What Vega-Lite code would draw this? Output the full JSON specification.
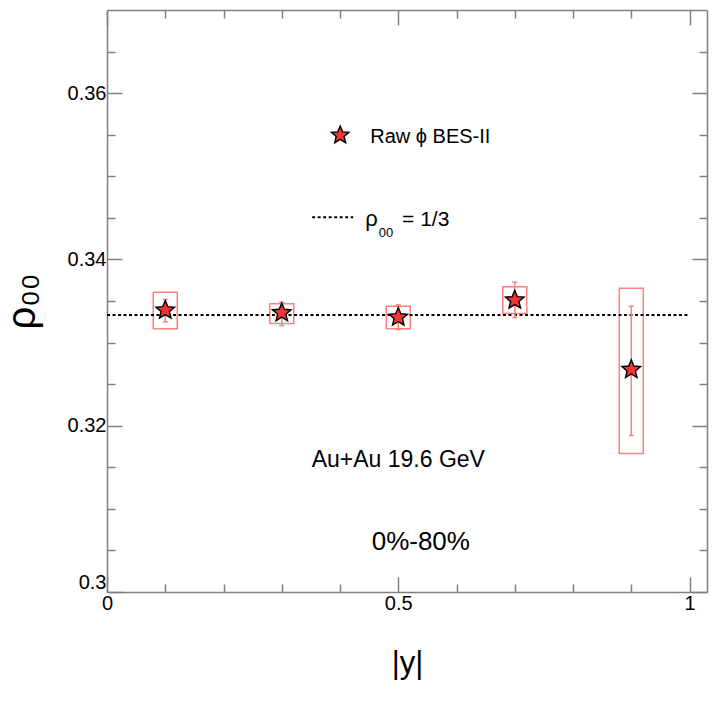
{
  "$schema": "https://vega.github.io/schema/vega-lite/v6.json",
  "width": 600,
  "height": 582,
  "autosize": "none",
  "padding": {"left": 107, "top": 10, "right": 10, "bottom": 112},
  "background": "white",
  "config": {
    "view": {"stroke": null},
    "font": "Liberation Sans",
    "axis": {
      "grid": false,
      "domainColor": "#808080",
      "domainWidth": 1.5,
      "tickColor": "#808080",
      "tickWidth": 1.5,
      "labelFont": "Liberation Sans",
      "labelColor": "black",
      "titleFont": "Liberation Sans",
      "titleFontWeight": "normal",
      "titleColor": "black"
    }
  },
  "data": {
    "values": [
      {"absy": 0.1, "rho": 0.33389, "stat_lo": 0.33249, "stat_hi": 0.33518, "sys_lo": 0.33165, "sys_hi": 0.33606},
      {"absy": 0.3, "rho": 0.33358, "stat_lo": 0.33205, "stat_hi": 0.33486, "sys_lo": 0.33229, "sys_hi": 0.33466},
      {"absy": 0.5, "rho": 0.33305, "stat_lo": 0.33157, "stat_hi": 0.33454, "sys_lo": 0.33165, "sys_hi": 0.33437},
      {"absy": 0.7, "rho": 0.33510, "stat_lo": 0.33301, "stat_hi": 0.33727, "sys_lo": 0.33349, "sys_hi": 0.33671},
      {"absy": 0.9, "rho": 0.32675, "stat_lo": 0.31883, "stat_hi": 0.33437, "sys_lo": 0.31666, "sys_hi": 0.33654}
    ]
  },
  "resolve": {"axis": {"x": "independent", "y": "independent"}, "scale": {"x": "shared", "y": "shared"}},
  "layer": [
    {
      "mark": {"type": "rect", "width": 24, "fillOpacity": 0, "stroke": "#ff8080", "strokeWidth": 1.5},
      "encoding": {
        "x": {"field": "absy", "type": "quantitative", "scale": {"domain": [0, 1.03], "nice": false, "zero": false},
          "axis": {"orient": "bottom", "values": [0, 0.1, 0.2, 0.3, 0.4, 0.5, 0.6, 0.7, 0.8, 0.9, 1],
            "labelExpr": "datum.value === 0 ? '0' : datum.value === 0.5 ? '0.5' : datum.value === 1 ? '1' : ''",
            "tickSize": {"condition": {"test": "datum.value === 0 || datum.value === 0.5 || datum.value === 1", "value": -15}, "value": -8},
            "labelPadding": 16, "labelFlush": false, "labelFontSize": 20, "labelOverlap": false,
            "title": "|y|", "titleFontSize": 31, "titlePadding": 28}},
        "y": {"field": "sys_lo", "type": "quantitative", "scale": {"domain": [0.3, 0.37], "nice": false, "zero": false},
          "axis": {"orient": "left", "values": [0.3, 0.305, 0.31, 0.315, 0.32, 0.325, 0.33, 0.335, 0.34, 0.345, 0.35, 0.355, 0.36, 0.365],
            "labelExpr": "abs(datum.value*100 - round(datum.value*50)*2) < 0.001 ? format(datum.value, '.2~f') : ''",
            "tickSize": {"condition": {"test": "abs(datum.value*100 - round(datum.value*50)*2) < 0.001", "value": -15}, "value": -8},
            "labelPadding": 16, "labelFlush": true, "labelFontSize": 20, "labelOverlap": false,
            "title": "ρ₀₀", "titleFontSize": 40, "titlePadding": 25}},
        "y2": {"field": "sys_hi"}
      }
    },
    {
      "data": {"values": [{}]},
      "mark": {"type": "rule", "color": "black", "strokeWidth": 2, "strokeDash": [3, 2.5]},
      "encoding": {
        "x": {"datum": 0, "type": "quantitative", "scale": {"domain": [0, 1.03], "nice": false, "zero": false},
          "axis": {"orient": "top", "values": [0, 0.1, 0.2, 0.3, 0.4, 0.5, 0.6, 0.7, 0.8, 0.9, 1], "labels": false, "title": null,
            "tickSize": {"condition": {"test": "datum.value === 0 || datum.value === 0.5 || datum.value === 1", "value": -15}, "value": -8}}},
        "x2": {"datum": 1},
        "y": {"datum": 0.33333, "type": "quantitative", "scale": {"domain": [0.3, 0.37], "nice": false, "zero": false},
          "axis": {"orient": "right", "values": [0.3, 0.305, 0.31, 0.315, 0.32, 0.325, 0.33, 0.335, 0.34, 0.345, 0.35, 0.355, 0.36, 0.365], "labels": false, "title": null,
            "tickSize": {"condition": {"test": "abs(datum.value*100 - round(datum.value*50)*2) < 0.001", "value": -15}, "value": -8}}}
      }
    },
    {
      "mark": {"type": "rule", "color": "#ff8080", "strokeWidth": 1.5},
      "encoding": {
        "x": {"field": "absy", "type": "quantitative", "axis": null},
        "y": {"field": "stat_lo", "type": "quantitative", "axis": null},
        "y2": {"field": "stat_hi"}
      }
    },
    {
      "mark": {"type": "tick", "color": "#ff8080", "orient": "horizontal", "size": 5, "thickness": 1.5, "opacity": 1},
      "encoding": {
        "x": {"field": "absy", "type": "quantitative", "axis": null},
        "y": {"field": "stat_lo", "type": "quantitative", "axis": null}
      }
    },
    {
      "mark": {"type": "tick", "color": "#ff8080", "orient": "horizontal", "size": 5, "thickness": 1.5, "opacity": 1},
      "encoding": {
        "x": {"field": "absy", "type": "quantitative", "axis": null},
        "y": {"field": "stat_hi", "type": "quantitative", "axis": null}
      }
    },
    {
      "mark": {"type": "point", "shape": "M0,-1L0.2645,-0.364L0.951,-0.309L0.428,0.139L0.588,0.809L0,0.45L-0.588,0.809L-0.428,0.139L-0.951,-0.309L-0.2645,-0.364Z", "size": 380, "filled": true, "fill": "#f03535", "stroke": "black", "strokeWidth": 1.4, "opacity": 1},
      "encoding": {
        "x": {"field": "absy", "type": "quantitative", "axis": null},
        "y": {"field": "rho", "type": "quantitative", "axis": null}
      }
    },
    {
      "data": {"values": [{}]},
      "mark": {"type": "point", "shape": "M0,-1L0.2645,-0.364L0.951,-0.309L0.428,0.139L0.588,0.809L0,0.45L-0.588,0.809L-0.428,0.139L-0.951,-0.309L-0.2645,-0.364Z", "size": 340, "filled": true, "fill": "#f03535", "stroke": "black", "strokeWidth": 1.4, "opacity": 1},
      "encoding": {
        "x": {"datum": 0.4003, "type": "quantitative", "axis": null},
        "y": {"datum": 0.35494, "type": "quantitative", "axis": null}
      }
    },
    {
      "data": {"values": [{}]},
      "mark": {"type": "rule", "color": "black", "strokeWidth": 2, "strokeDash": [3, 2.5]},
      "encoding": {
        "x": {"datum": 0.3522, "type": "quantitative", "axis": null},
        "x2": {"datum": 0.4227},
        "y": {"datum": 0.34506, "type": "quantitative", "axis": null}
      }
    },
    {
      "data": {"values": [{}]},
      "mark": {"type": "text", "text": "Raw ϕ BES-II", "fontSize": 20, "align": "left", "baseline": "middle", "color": "black"},
      "encoding": {
        "x": {"datum": 0.4519, "type": "quantitative", "axis": null},
        "y": {"datum": 0.3547, "type": "quantitative", "axis": null}
      }
    },
    {
      "data": {"values": [{}]},
      "mark": {"type": "text", "text": "ρ", "fontSize": 22, "align": "left", "baseline": "alphabetic", "color": "black"},
      "encoding": {
        "x": {"datum": 0.4433, "type": "quantitative", "axis": null},
        "y": {"datum": 0.34398, "type": "quantitative", "axis": null}
      }
    },
    {
      "data": {"values": [{}]},
      "mark": {"type": "text", "text": "00", "fontSize": 13, "align": "left", "baseline": "alphabetic", "color": "black"},
      "encoding": {
        "x": {"datum": 0.4665, "type": "quantitative", "axis": null},
        "y": {"datum": 0.34265, "type": "quantitative", "axis": null}
      }
    },
    {
      "data": {"values": [{}]},
      "mark": {"type": "text", "text": "= 1/3", "fontSize": 21, "align": "left", "baseline": "alphabetic", "color": "black"},
      "encoding": {
        "x": {"datum": 0.5065, "type": "quantitative", "axis": null},
        "y": {"datum": 0.34398, "type": "quantitative", "axis": null}
      }
    },
    {
      "data": {"values": [{}]},
      "mark": {"type": "text", "text": "Au+Au 19.6 GeV", "fontSize": 23, "align": "center", "baseline": "alphabetic", "color": "black"},
      "encoding": {
        "x": {"datum": 0.5, "type": "quantitative", "axis": null},
        "y": {"datum": 0.31506, "type": "quantitative", "axis": null}
      }
    },
    {
      "data": {"values": [{}]},
      "mark": {"type": "text", "text": "0%-80%", "fontSize": 26, "align": "center", "baseline": "alphabetic", "color": "black"},
      "encoding": {
        "x": {"datum": 0.5387, "type": "quantitative", "axis": null},
        "y": {"datum": 0.30506, "type": "quantitative", "axis": null}
      }
    }
  ]
}
